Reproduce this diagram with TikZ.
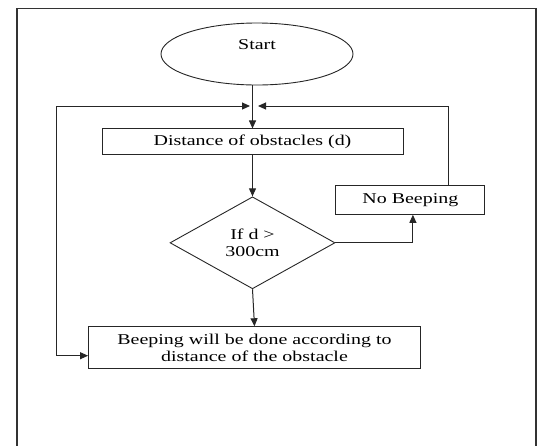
\documentclass[tikz,border=0pt]{standalone}
\usepackage{fontspec}
\setmainfont{Liberation Serif}[FakeStretch=1.33]
\usepackage{tikz}
\usetikzlibrary{shapes.geometric, arrows.meta, positioning}

\begin{document}
\begin{tikzpicture}[
    x=1pt, y=1pt,
    font=\fontsize{15}{16.5}\selectfont,
    base/.style={draw=black!85, line width=0.9pt, inner sep=0pt},
    term/.style={base, ellipse, minimum width=192pt, minimum height=62pt,
                 text depth=18pt},
    proc/.style={base, rectangle, align=center},
    dec/.style={base, diamond, aspect=1.8, align=center,
                minimum width=165pt, minimum height=92pt},
    rel/.style={draw=black!85, line width=1pt, -{Triangle[length=8pt,width=7pt]}},
    frame/.style={draw=black!80, line width=1.4pt}
]
\useasboundingbox (0,0) rectangle (543,-445);
\draw[frame] (17,-450) |- (536,-8.5) -- (536,-450);

\node[term] (start) at (257,-54) {Start};
\node[proc, below=43pt of start, xshift=-4.5pt,
      minimum width=301pt, minimum height=26pt] (dist) {Distance of obstacles (d)};
\node[dec, below=41pt of dist] (cond) {If d >\\300cm};
\node[proc, above right=28pt and 0pt of cond.east,
      minimum width=149pt, minimum height=29pt] (nobeep) {No Beeping};
\node[proc, below=37pt of cond, xshift=2pt,
      minimum width=332pt, minimum height=42pt] (beep)
  {Beeping will be done according to\\distance of the obstacle};

% loop ends
\coordinate (tipl) at (250,-106);
\coordinate (tipr) at (258,-106);
\coordinate (cornl) at (56,-230);

\draw[rel] (dist.north |- start.south) -- (dist.north);
\draw[rel] (dist) -- (cond);
\draw[rel] (cond.east) -| ([xshift=2.5pt]nobeep.south);
\draw[rel] (cond.south) -- (beep.north);
\draw[rel] ([xshift=38.5pt]nobeep.north) |- (tipr);
\draw[rel] (cornl) |- (tipl);
\draw[rel] (cornl) |- ([yshift=-8pt]beep.west);

\end{tikzpicture}
\end{document}
